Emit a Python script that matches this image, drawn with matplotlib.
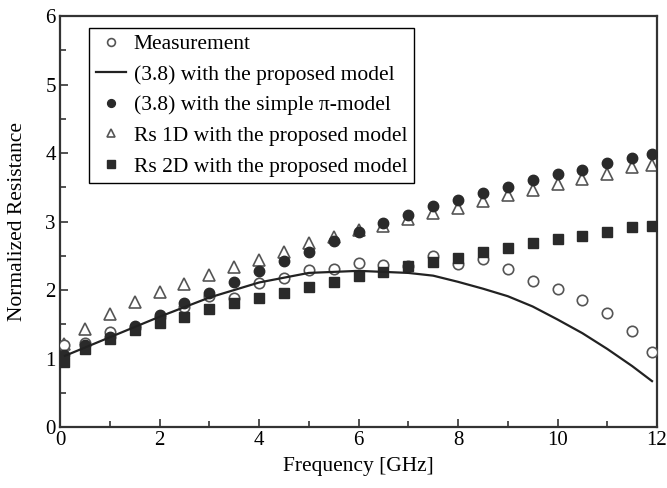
import matplotlib.pyplot as plt
from matplotlib.ticker import MultipleLocator

plt.rcParams["font.family"] = ["Liberation Serif", "DejaVu Serif"]

# frequency points [GHz]
freq = [0.07, 0.5, 1.0, 1.5, 2.0, 2.5, 3.0, 3.5, 4.0, 4.5, 5.0, 5.5, 6.0,
        6.5, 7.0, 7.5, 8.0, 8.5, 9.0, 9.5, 10.0, 10.5, 11.0, 11.5, 11.9]

measurement = [1.20, 1.23, 1.39, 1.45, 1.60, 1.75, 1.91, 1.88, 2.11, 2.18,
               2.29, 2.31, 2.40, 2.37, 2.35, 2.49, 2.38, 2.45, 2.31, 2.13,
               2.01, 1.86, 1.67, 1.40, 1.10]
simple_pi = [1.05, 1.20, 1.31, 1.48, 1.63, 1.81, 1.96, 2.12, 2.28, 2.42,
             2.56, 2.72, 2.85, 2.98, 3.09, 3.22, 3.32, 3.41, 3.50, 3.60,
             3.69, 3.76, 3.85, 3.93, 3.98]
rs_1d = [1.21, 1.43, 1.65, 1.82, 1.97, 2.09, 2.22, 2.33, 2.44, 2.56,
         2.68, 2.78, 2.87, 2.94, 3.03, 3.13, 3.20, 3.30, 3.39, 3.46,
         3.55, 3.62, 3.70, 3.79, 3.83]
rs_2d = [0.95, 1.14, 1.28, 1.41, 1.52, 1.61, 1.72, 1.81, 1.89, 1.96,
         2.05, 2.12, 2.21, 2.27, 2.35, 2.41, 2.47, 2.56, 2.62, 2.68,
         2.74, 2.79, 2.85, 2.92, 2.94]

# (3.8) with the proposed model (solid curve)
model_f = [0.1, 1.0, 2.0, 3.0, 4.0, 5.0, 6.0, 7.0, 7.5, 8.0, 8.5, 9.0,
           9.5, 10.0, 10.5, 11.0, 11.5, 11.9]
model_r = [1.04, 1.31, 1.61, 1.89, 2.11, 2.25, 2.28, 2.25, 2.21, 2.12,
           2.02, 1.91, 1.76, 1.57, 1.37, 1.14, 0.89, 0.67]

fig = plt.figure(figsize=(6.67, 4.88), dpi=100)
ax = fig.add_axes([0.09, 0.125, 0.895, 0.842])

ax.plot(freq, measurement, "o", ms=7.5, mfc="white", mec="#555555",
        mew=1.2, label="Measurement", zorder=3)
ax.plot(model_f, model_r, "-", color="#222222", lw=1.6,
        label="(3.8) with the proposed model", zorder=4)
ax.plot(freq, simple_pi, "o", ms=7.5, color="#2a2a2a",
        label="(3.8) with the simple π-model", zorder=3)
ax.plot(freq, rs_1d, "^", ms=8, mfc="white", mec="#555555", mew=1.2,
        label="Rs 1D with the proposed model", zorder=2)
ax.plot(freq, rs_2d, "s", ms=7.5, color="#2a2a2a",
        label="Rs 2D with the proposed model", zorder=3)

ax.set_xlim(0, 12)
ax.set_ylim(0, 6)
ax.xaxis.set_major_locator(MultipleLocator(2))
ax.xaxis.set_minor_locator(MultipleLocator(1))
ax.yaxis.set_major_locator(MultipleLocator(1))
ax.yaxis.set_minor_locator(MultipleLocator(0.5))
ax.tick_params(which="both", direction="in", labelsize=15, color="#333333",
               width=1.2, pad=3)
ax.tick_params(which="major", length=6)
ax.tick_params(which="minor", length=4)
for sp in ax.spines.values():
    sp.set_linewidth(1.6)
    sp.set_color("#333333")

ax.set_xlabel("Frequency [GHz]", fontsize=15.5, labelpad=5)
ax.set_ylabel("Normalized Resistance", fontsize=15.5, labelpad=13)

leg = ax.legend(loc="upper left", bbox_to_anchor=(0.0486, 0.972),
                borderaxespad=0, fontsize=15.5, markerscale=0.75,
                handlelength=1.4, fancybox=False, edgecolor="black",
                framealpha=1, borderpad=0.3, labelspacing=0.49,
                handletextpad=0.37)
leg.get_frame().set_linewidth(1.0)

fig.savefig("out.png", dpi=100)
